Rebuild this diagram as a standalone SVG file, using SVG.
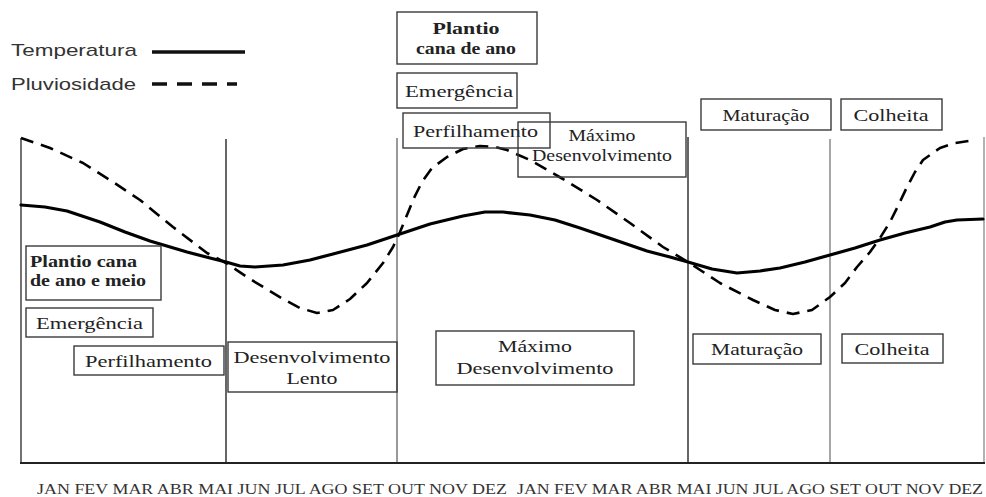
<svg xmlns="http://www.w3.org/2000/svg" width="986" height="497" viewBox="0 0 986 497">
<style>
.bg{fill:#fff}
.box{fill:none;stroke:#3a3a3a;stroke-width:1.4}
.t{font-family:"Liberation Serif","Times New Roman",serif;font-size:17px;fill:#222}
.tb{font-family:"Liberation Serif","Times New Roman",serif;font-size:17px;font-weight:bold;fill:#222}
.leg{font-family:"Liberation Sans",Arial,sans-serif;font-size:17px;fill:#333}
.mo{font-family:"Liberation Serif","Times New Roman",serif;font-size:15px;fill:#333}
.vl{stroke-width:1.5;fill:none}
</style>
<rect class="bg" x="0" y="0" width="986" height="497"/>
<g id="legend">
<text class="leg" x="11" y="56" textLength="126" lengthAdjust="spacingAndGlyphs">Temperatura</text>
<line x1="152" y1="52" x2="245" y2="52" stroke="#111" stroke-width="3.5"/>
<text class="leg" x="11" y="90" textLength="125" lengthAdjust="spacingAndGlyphs">Pluviosidade</text>
<line x1="152" y1="84" x2="237" y2="84" stroke="#111" stroke-width="3.5" stroke-dasharray="15 10"/>
</g>
<g id="axes">
<line class="vl" x1="21" y1="138" x2="21" y2="463" stroke="#444"/>
<line class="vl" x1="226" y1="139" x2="226" y2="463" stroke="#333"/>
<line class="vl" x1="397" y1="138" x2="397" y2="463" stroke="#777"/>
<line class="vl" x1="688" y1="137" x2="688" y2="463" stroke="#333"/>
<line class="vl" x1="830" y1="139" x2="830" y2="463" stroke="#888"/>
<line class="vl" x1="984" y1="137" x2="984" y2="463" stroke="#999"/>
<line x1="20" y1="463" x2="985" y2="463" stroke="#222" stroke-width="2"/>
</g>
<g id="connectors">
<polyline id="temperatura" fill="none" stroke="#000" stroke-width="3.2" stroke-linejoin="round" stroke-linecap="round" points="21,205 45,207 67,211 100,222 125,232 150,241 187,252 210,258 226,262 240,266 255,267 283,265 310,260 333,254 367,245 397,235 430,224 463,216 485,212 503,212 530,215 555,220 580,228 615,240 647,251 670,257 688,262 712,269 737,273 760,271 780,268 805,262 830,255 855,248 880,240 905,233 930,227 945,222 957,220 983,219"/>
<polyline id="pluviosidade" fill="none" stroke="#000" stroke-width="2.6" stroke-dasharray="13 8" stroke-linejoin="round" points="21,138 50,148 83,163 113,182 140,200 173,227 207,253 226,263 250,279 283,299 300,308 317,313 333,310 350,299 367,283 383,263 393,247 400,232 407,215 414,198 422,182 432,168 447,157 463,149 480,146 495,147 507,150 530,160 563,179 597,200 630,223 663,247 688,262 720,283 753,300 775,310 793,314 812,310 830,297 845,283 857,267 870,252 880,238 890,222 898,206 907,187 915,172 923,160 940,148 955,143 975,140"/>
</g>
<g id="n-plantio-ano">
<rect class="box" x="397" y="12" width="140" height="52"/>
<text class="tb" x="466" y="34" text-anchor="middle" textLength="67" lengthAdjust="spacingAndGlyphs">Plantio</text>
<text class="tb" x="466" y="54" text-anchor="middle" textLength="100" lengthAdjust="spacingAndGlyphs">cana de ano</text>
</g>
<g id="n-emergencia-top">
<rect class="box" x="397" y="73" width="120" height="35"/>
<text class="t" x="405" y="97" textLength="108" lengthAdjust="spacingAndGlyphs">Emergência</text>
</g>
<g id="n-perfilhamento-top">
<rect class="box" x="403" y="113" width="147" height="35"/>
<text class="t" x="413" y="137" textLength="125" lengthAdjust="spacingAndGlyphs">Perfilhamento</text>
</g>
<g id="n-maximo-top">
<rect class="box" x="518" y="122" width="168" height="55"/>
<text class="t" x="602" y="141" text-anchor="middle" textLength="67" lengthAdjust="spacingAndGlyphs">Máximo</text>
<text class="t" x="602" y="161" text-anchor="middle" textLength="140" lengthAdjust="spacingAndGlyphs">Desenvolvimento</text>
</g>
<g id="n-maturacao-top">
<rect class="box" x="701" y="99" width="130" height="31"/>
<text class="t" x="766" y="121" text-anchor="middle" textLength="87" lengthAdjust="spacingAndGlyphs">Maturação</text>
</g>
<g id="n-colheita-top">
<rect class="box" x="841" y="99" width="101" height="31"/>
<text class="t" x="891" y="121" text-anchor="middle" textLength="75" lengthAdjust="spacingAndGlyphs">Colheita</text>
</g>
<g id="n-plantio-ano-meio">
<rect class="box" x="26" y="246" width="135" height="54"/>
<text class="tb" x="30" y="267" textLength="107" lengthAdjust="spacingAndGlyphs">Plantio cana</text>
<text class="tb" x="30" y="286" textLength="116" lengthAdjust="spacingAndGlyphs">de ano e meio</text>
</g>
<g id="n-emergencia">
<rect class="box" x="26" y="308" width="127" height="29"/>
<text class="t" x="36" y="329" textLength="107" lengthAdjust="spacingAndGlyphs">Emergência</text>
</g>
<g id="n-perfilhamento">
<rect class="box" x="74" y="346" width="150" height="29"/>
<text class="t" x="85" y="367" textLength="127" lengthAdjust="spacingAndGlyphs">Perfilhamento</text>
</g>
<g id="n-desenvolvimento-lento">
<rect class="box" x="228" y="342" width="169" height="50"/>
<text class="t" x="312" y="363" text-anchor="middle" textLength="157" lengthAdjust="spacingAndGlyphs">Desenvolvimento</text>
<text class="t" x="312" y="384" text-anchor="middle" textLength="51" lengthAdjust="spacingAndGlyphs">Lento</text>
</g>
<g id="n-maximo">
<rect class="box" x="436" y="331" width="198" height="54"/>
<text class="t" x="535" y="352" text-anchor="middle" textLength="74" lengthAdjust="spacingAndGlyphs">Máximo</text>
<text class="t" x="535" y="374" text-anchor="middle" textLength="157" lengthAdjust="spacingAndGlyphs">Desenvolvimento</text>
</g>
<g id="n-maturacao">
<rect class="box" x="693" y="334" width="128" height="30"/>
<text class="t" x="757" y="355" text-anchor="middle" textLength="92" lengthAdjust="spacingAndGlyphs">Maturação</text>
</g>
<g id="n-colheita">
<rect class="box" x="842" y="334" width="101" height="29"/>
<text class="t" x="892" y="355" text-anchor="middle" textLength="75" lengthAdjust="spacingAndGlyphs">Colheita</text>
</g>
<g id="months">
<text class="mo" x="37" y="494" textLength="470" lengthAdjust="spacingAndGlyphs">JAN FEV MAR ABR MAI JUN JUL AGO SET OUT NOV DEZ</text>
<text class="mo" x="517" y="494" textLength="466" lengthAdjust="spacingAndGlyphs">JAN FEV MAR ABR MAI JUN JUL AGO SET OUT NOV DEZ</text>
</g>
</svg>
